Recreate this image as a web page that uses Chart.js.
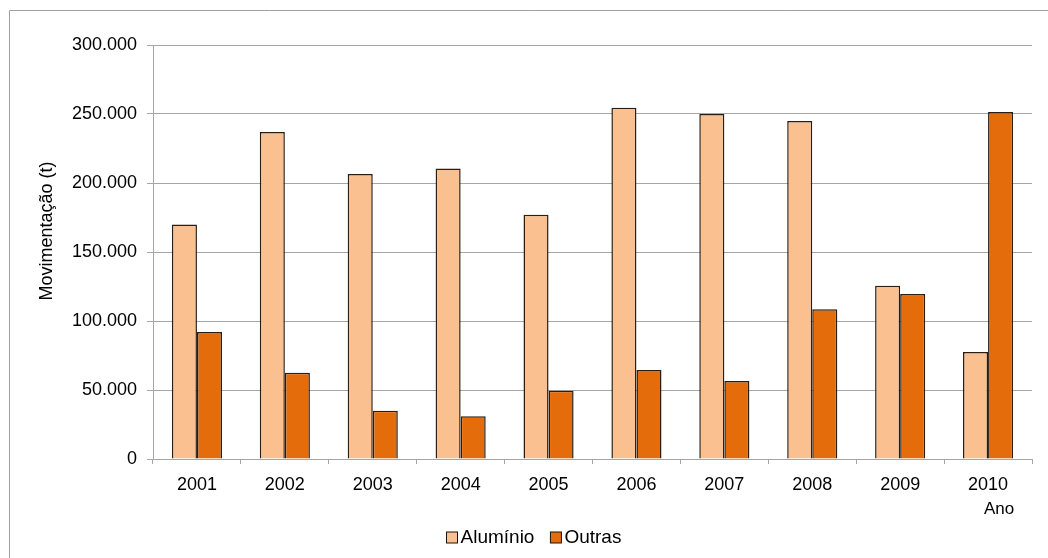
<!DOCTYPE html>
<html>
<head>
<meta charset="utf-8">
<script src="https://cdn.jsdelivr.net/npm/chart.js@4"></script>
<style>
  html, body { margin: 0; padding: 0; background: #fff; }
  #chart { display: block; }
</style>
</head>
<body>
<canvas id="chart" width="1048" height="558"></canvas>
<script>
var anos = ['2001', '2002', '2003', '2004', '2005', '2006', '2007', '2008', '2009', '2010'];
var aluminio = [170000, 237000, 206500, 210500, 177000, 254500, 250000, 245000, 125500, 77500];
var outras = [92000, 62500, 35000, 31000, 49500, 64500, 56500, 108500, 119500, 251500];
var yTicks = [0, 50000, 100000, 150000, 200000, 250000, 300000];

var fonte = 'Arial, "Liberation Sans", sans-serif';

function milhar(v){
	return String(v).replace(/\B(?=(\d{3})+(?!\d))/g, '.');
}

// frame, legend and titles placed the way Excel does it
var extras = {
	id: 'extras',
	beforeDraw: function(chart){
		var ctx = chart.ctx;
		ctx.save();
		ctx.strokeStyle = '#a0a0a0';
		ctx.lineWidth = 1;
		ctx.beginPath();
		ctx.moveTo(9.5, 560);
		ctx.lineTo(9.5, 10.5);
		ctx.lineTo(1050, 10.5);
		ctx.stroke();
		ctx.restore();
	},
	afterDraw: function(chart){
		var ctx = chart.ctx, a = chart.chartArea;
		ctx.save();
		ctx.fillStyle = '#000';
		ctx.font = '18px ' + fonte;
		ctx.textAlign = 'center';
		ctx.textBaseline = 'middle';
		ctx.translate(a.left - 106, a.top + 186);
		ctx.rotate(-Math.PI / 2);
		ctx.fillText('Movimentação (t)', 0, 0);
		ctx.restore();

		ctx.save();
		ctx.fillStyle = '#000';
		ctx.font = '17px ' + fonte;
		ctx.textAlign = 'center';
		ctx.textBaseline = 'middle';
		ctx.fillText('Ano', a.right - 33, a.bottom + 50);
		ctx.restore();

		// legend
		ctx.save();
		ctx.font = '19px ' + fonte;
		ctx.textBaseline = 'middle';
		ctx.textAlign = 'left';
		var sets = chart.data.datasets;
		var box = 11, gap = 3, space = 16;
		var total = 0;
		sets.forEach(function(d, i){
			total += box + gap + ctx.measureText(d.label).width + (i > 0 ? space : 0);
		});
		var x = Math.round(chart.width / 2 + 9 - total / 2) + 0.5;
		var y = 538;
		sets.forEach(function(d){
			ctx.fillStyle = d.backgroundColor;
			ctx.fillRect(x, y - 6, box, box);
			ctx.strokeStyle = '#1a1410';
			ctx.lineWidth = 1;
			ctx.strokeRect(x, y - 6, box, box);
			ctx.fillStyle = '#000';
			ctx.fillText(d.label, x + box + gap, y);
			x += box + gap + ctx.measureText(d.label).width + space;
		});
		ctx.restore();
	}
};

var chart = new Chart(document.getElementById('chart'), {
	type: 'bar',
	data: {
		labels: anos,
		datasets: [
			{
				label: 'Alumínio',
				data: aluminio,
				backgroundColor: '#fac090',
				borderColor: '#2a1e14',
				borderWidth: 1.5
			},
			{
				label: 'Outras',
				data: outras,
				backgroundColor: '#e46c0a',
				borderColor: '#2a1e14',
				borderWidth: 1.5
			}
		]
	},
	options: {
		responsive: false,
		animation: false,
		devicePixelRatio: 1,
		layout: {
			padding: { left: 0, right: 16, top: 45, bottom: 35 }
		},
		datasets: {
			bar: { barPercentage: 1, categoryPercentage: 0.57 }
		},
		scales: {
			x: {
				afterFit: function(s){ s.height = 64; },
				grid: {
					display: true,
					offset: true,
					drawOnChartArea: false,
					tickLength: 5,
					color: '#a6a6a6'
				},
				border: { color: '#a6a6a6' },
				ticks: {
					color: '#000',
					font: { family: fonte, size: 18 },
					padding: 10
				}
			},
			y: {
				min: 0,
				max: 300000,
				afterFit: function(s){ s.width = 153; },
				afterBuildTicks: function(s){
					s.ticks = yTicks.map(function(v){ return { value: v }; });
				},
				grid: {
					color: '#a6a6a6',
					tickLength: 6
				},
				border: { color: '#a6a6a6' },
				ticks: {
					color: '#000',
					font: { family: fonte, size: 18 },
					padding: 10,
					callback: function(v){ return milhar(v); }
				}
			}
		},
		plugins: {
			legend: { display: false },
			tooltip: { enabled: false }
		}
	},
	plugins: [extras]
});
</script>
</body>
</html>
